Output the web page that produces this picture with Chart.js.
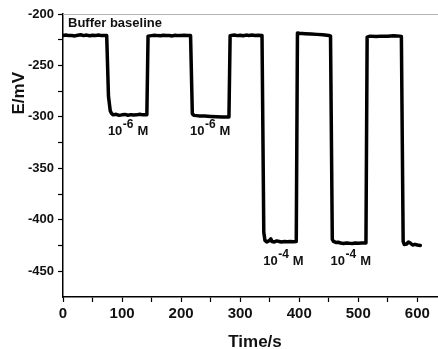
<!DOCTYPE html>
<html>
<head>
<meta charset="utf-8">
<script src="https://cdn.jsdelivr.net/npm/chart.js@4/dist/chart.umd.min.js"></script>
<style>
html,body{margin:0;padding:0;background:#fff;}
#wrap{width:438px;height:349px;position:relative;}
</style>
</head>
<body>
<div id="wrap"><canvas id="c" width="438" height="349"></canvas></div>
<script>
// ---- data ----
const timeS = [0,5,10,15,20,25,30,35,40,45,50,55,60,65,70,74,77,80,82,85,90,95,100,105,110,115,120,125,130,135,142,144,150,155,160,165,170,175,180,185,190,195,200,205,210,216,219,222,230,240,250,260,270,281,283,290,295,300,305,310,315,320,325,330,337,340,342,345,350,352,354,358,362,366,370,375,380,385,390,395,397,400,410,420,430,440,450,453,456,458,462,466,470,475,480,485,490,495,500,505,513,515,520,530,540,550,560,570,573,576,578,582,585,588,592,596,600,605];
const potentialMV = [-221,-220.5,-221,-220.8,-221.3,-220.6,-220.2,-221,-220.5,-221.2,-220.7,-221,-220.4,-221,-220.8,-221,-280,-294,-296.5,-298,-297.5,-298.5,-298,-297.6,-298.4,-297.8,-298.2,-298,-297.5,-298,-297.8,-221.5,-221,-220.6,-221,-221.2,-220.7,-221,-220.8,-221.3,-220.6,-221,-221,-220.7,-221,-221,-297,-298.5,-299,-299.2,-299.5,-299.8,-300,-300,-221,-220.4,-221,-220.6,-221.2,-220.5,-220.8,-220.4,-220.8,-220.6,-220.8,-412,-420,-421.5,-420,-418.5,-421,-421.5,-420.5,-421,-421.5,-421,-421.3,-421,-421.2,-421,-218.5,-218.8,-219.2,-219.5,-219.8,-220.2,-220.8,-221.5,-419,-421,-422,-421.8,-422.5,-423,-422.5,-422.8,-423,-422.6,-422.7,-422.5,-422.5,-222.5,-221.5,-221.8,-221.5,-221.7,-221.2,-221.5,-221.8,-421,-424,-423.5,-421.5,-422.5,-424.5,-423.8,-424.5,-425];

const xTicks = [0,50,100,150,200,250,300,350,400,450,500,550,600];
const yTicks = [-450,-425,-400,-375,-350,-325,-300,-275,-250,-225,-200];

// annotation labels (data coordinates)
const annoTimes = [76, 215, 339, 453];
const annoValues = [-317.5, -317.5, -443.7, -443.7];
const annoExponents = ['-6', '-6', '-4', '-4'];
const baselineLabel = 'Buffer baseline';
const baselineLabelPos = [8.5, -212.6];

const FONT = '"Liberation Sans", Arial, sans-serif';

const points = timeS.map((t, i) => ({x: t, y: potentialMV[i]}));

const decor = {
  id: 'decor',
  afterDraw(chart) {
    const ctx = chart.ctx;
    const xs = chart.scales.x, ys = chart.scales.y;
    const ca = chart.chartArea;
    ctx.save();
    // top frame line (gray)
    ctx.strokeStyle = '#b4b4b4';
    ctx.lineWidth = 1;
    ctx.beginPath();
    ctx.moveTo(ca.left, Math.round(ca.top) + 0.5);
    ctx.lineTo(ca.right, Math.round(ca.top) + 0.5);
    ctx.stroke();

    ctx.fillStyle = '#111';
    ctx.textBaseline = 'alphabetic';
    ctx.textAlign = 'left';
    // Buffer baseline
    ctx.font = 'bold 13px ' + FONT;
    ctx.fillText(baselineLabel, xs.getPixelForValue(baselineLabelPos[0]), ys.getPixelForValue(baselineLabelPos[1]));

    // concentration labels
    for (let i = 0; i < annoTimes.length; i++) {
      let px = xs.getPixelForValue(annoTimes[i]);
      const py = ys.getPixelForValue(annoValues[i]);
      ctx.font = 'bold 13px ' + FONT;
      ctx.fillText('10', px, py);
      px += ctx.measureText('10').width + 0.5;
      ctx.font = 'bold 12px ' + FONT;
      ctx.fillText(annoExponents[i], px, py - 7);
      px += ctx.measureText(annoExponents[i]).width + 4;
      ctx.font = 'bold 13px ' + FONT;
      ctx.fillText('M', px, py);
    }

    // axis titles
    ctx.font = 'bold 17px ' + FONT;
    ctx.textAlign = 'center';
    ctx.fillText('Time/s', 255, 347);
    ctx.save();
    ctx.translate(24, ys.getPixelForValue(-277));
    ctx.rotate(-Math.PI / 2);
    ctx.textBaseline = 'alphabetic';
    ctx.fillText('E/mV', 0, 0);
    ctx.restore();
    ctx.restore();
  }
};

new Chart(document.getElementById('c'), {
  type: 'scatter',
  data: {
    datasets: [{
      data: points,
      showLine: true,
      borderColor: '#000',
      borderWidth: 3.5,
      pointRadius: 0,
      tension: 0,
      borderJoinStyle: 'round',
      borderCapStyle: 'round'
    }]
  },
  options: {
    responsive: false,
    animation: false,
    devicePixelRatio: 1,
    layout: {padding: {top: 14, right: 0, left: 0, bottom: 0}},
    plugins: {legend: {display: false}, tooltip: {enabled: false}},
    scales: {
      x: {
        type: 'linear',
        min: 0,
        max: 635,
        afterBuildTicks: (axis) => { axis.ticks = xTicks.map(v => ({value: v})); },
        afterFit: (s) => { s.height = 52; },
        grid: {drawOnChartArea: false, drawTicks: true, tickLength: 5, color: '#000', tickWidth: 1.2},
        border: {display: true, color: '#000', width: 1.5},
        ticks: {
          autoSkip: false,
          maxRotation: 0,
          padding: 3,
          color: '#111',
          font: {family: FONT, size: 15, weight: 'bold'},
          callback: (v) => (v % 100 === 0 ? String(v) : '')
        }
      },
      y: {
        type: 'linear',
        min: -475,
        max: -200,
        afterBuildTicks: (axis) => { axis.ticks = yTicks.map(v => ({value: v})); },
        afterFit: (s) => { s.width = 63; },
        grid: {drawOnChartArea: false, drawTicks: true, tickLength: 5, color: '#000', tickWidth: 1.2},
        border: {display: true, color: '#000', width: 1.5},
        ticks: {
          autoSkip: false,
          padding: 4,
          color: '#111',
          font: {family: FONT, size: 13, weight: 'bold'},
          callback: (v) => (v % 50 === 0 ? String(v) : '')
        }
      }
    }
  },
  plugins: [decor]
});
</script>
</body>
</html>
